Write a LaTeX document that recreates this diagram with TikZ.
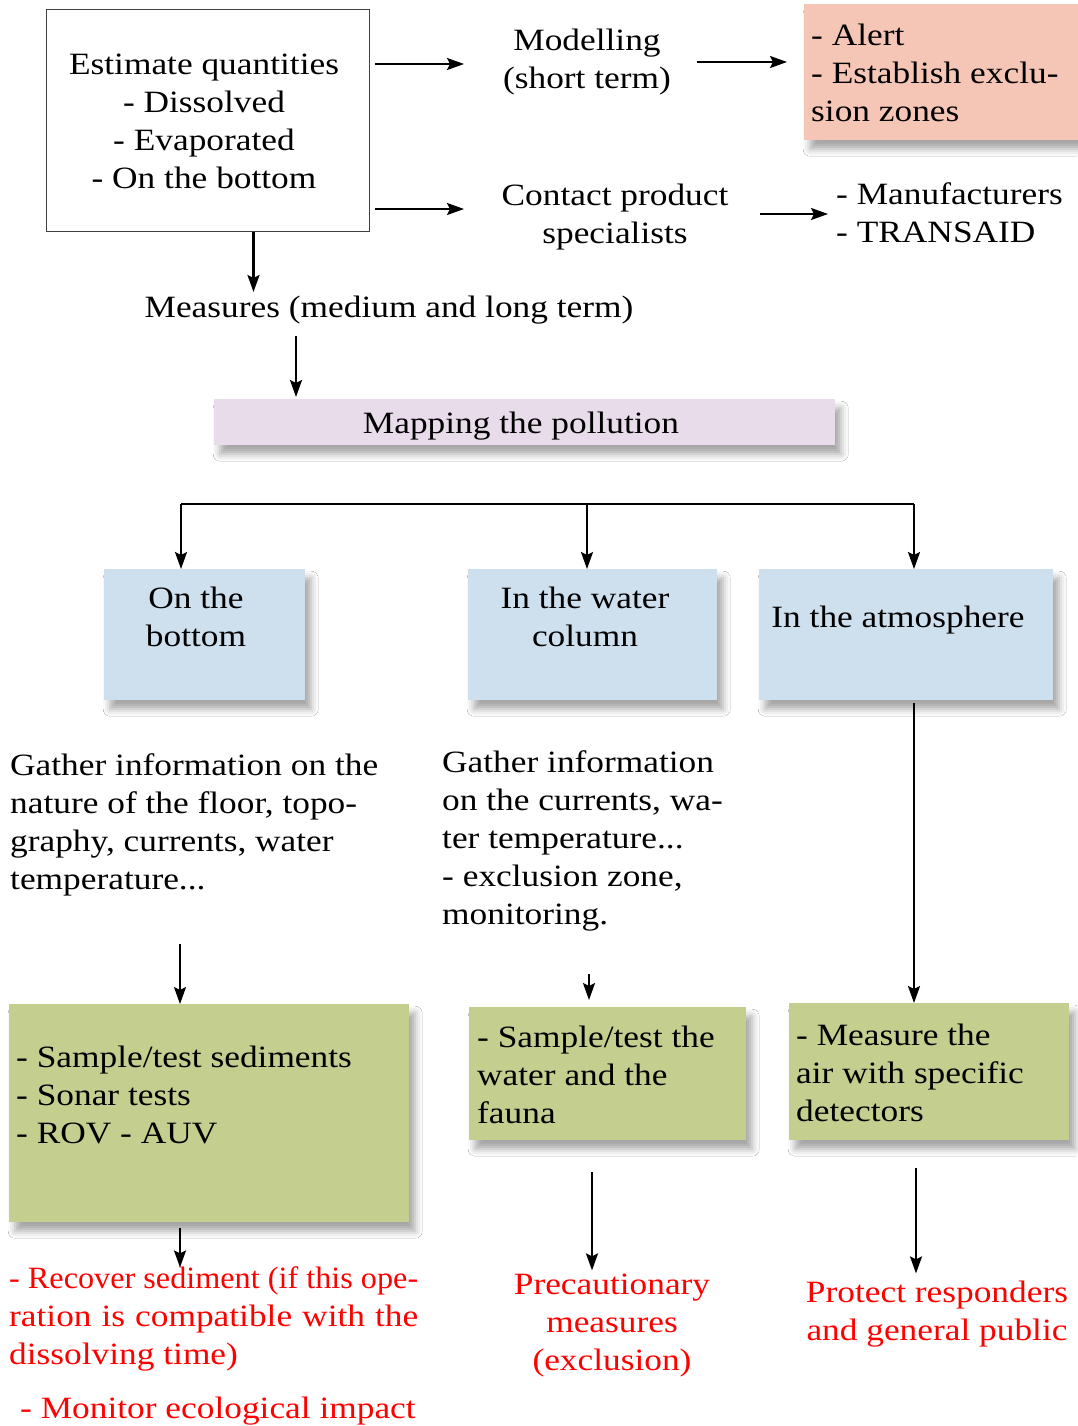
\documentclass[tikz,border=0pt]{standalone}
\usepackage{fontspec}
\setmainfont{Liberation Serif}[FakeStretch=1.14]
\usetikzlibrary{arrows.meta,calc,shadows.blur}
\newcommand\fs{\fontsize{31}{38}\selectfont}
\definecolor{pinkbox}{HTML}{F5C6B6}
\definecolor{lavbox}{HTML}{E8DCEA}
\definecolor{bluebox}{HTML}{CEDFEE}
\definecolor{greenbox}{HTML}{C4CE8E}
\definecolor{redtxt}{HTML}{FF0000}
\tikzset{
  txt/.style={inner sep=0pt, font=\fs, align=center},
  ltxt/.style={inner sep=0pt, font=\fs, align=left},
  rtxt/.style={inner sep=0pt, font=\fs, text=redtxt},
  arr/.style={-{Stealth[length=17pt,width=12pt,inset=3pt]}, line width=2.3pt},
  plain/.style={line width=2.3pt},
  shad/.style={blur shadow={shadow xshift=6pt, shadow yshift=-9pt, shadow blur radius=7pt, shadow opacity=35}},
  boxx/.style={inner sep=0pt, anchor=north west, shad},
}
\begin{document}
\begin{tikzpicture}[x=1pt,y=-1pt]
\useasboundingbox[fill=white] (0,0) rectangle (1077,1426);

% top box
\node[draw=black!75, line width=1pt, fill=white, inner sep=0pt, anchor=north west,
      minimum width=323pt, minimum height=222pt] (est) at (46,9) {};
\node[txt] (esttxt) at (204,123.4) {\strut Estimate quantities\\- Dissolved\\- Evaporated\\- On the bottom\strut};

\node[txt] (mod) at (587,62.4) {\strut Modelling\\(short term)\strut};
\node[txt] (cps) at (615,216.4) {\strut Contact product\\specialists\strut};

\node[boxx, fill=pinkbox, minimum width=276pt, minimum height=136pt] (pink) at (804,4) {};
\node[ltxt, anchor=west] (alert) at (811,75.9) {\strut - Alert\\- Establish exclu-\\sion zones\strut};

\node[ltxt, anchor=west] (manu) at (836,215.4) {\strut - Manufacturers\\- TRANSAID\strut};

\node[txt, anchor=base] (meas) at (389,317) {Measures (medium and long term)};

\node[boxx, fill=lavbox, minimum width=621pt, minimum height=46pt] (map) at (214,399) {};
\node[txt, anchor=base] (maptxt) at (521,433) {Mapping the pollution};

% blue boxes
\node[boxx, fill=bluebox, minimum width=201pt, minimum height=131pt] (b1) at (104,569) {};
\node[boxx, fill=bluebox, minimum width=249pt, minimum height=131pt] (b2) at (468,569) {};
\node[boxx, fill=bluebox, minimum width=294pt, minimum height=131pt] (b3) at (759,569) {};
\node[txt] (b1t) at (196,619.4) {\strut On the\\bottom\strut};
\node[txt] (b2t) at (585,619.4) {\strut In the water\\column\strut};
\node[txt, anchor=base] (b3t) at (898,627) {In the atmosphere};

% gather texts
\node[ltxt, anchor=west] (g1) at (10,824.9) {\strut Gather information on the\\nature of the floor, topo-\\graphy, currents, water\\temperature...\strut};
\node[ltxt, anchor=west] (g2) at (442,840.4) {\strut Gather information\\on the currents, wa-\\ter temperature...\\- exclusion zone,\\monitoring.\strut};

% green boxes
\node[boxx, fill=greenbox, minimum width=400pt, minimum height=218pt] (gr1) at (9,1004) {};
\node[boxx, fill=greenbox, minimum width=277pt, minimum height=133pt] (gr2) at (469,1007) {};
\node[boxx, fill=greenbox, minimum width=280pt, minimum height=137pt] (gr3) at (789,1003) {};
\node[ltxt, anchor=west] (gr1t) at (16,1097.4) {\strut - Sample/test sediments\\- Sonar tests\\- ROV - AUV\strut};
\node[ltxt, anchor=west] (gr2t) at (477,1077.4) {\strut - Sample/test the\\water and the\\fauna\strut};
\node[ltxt, anchor=west] (gr3t) at (796,1075.9) {\strut - Measure the\\air with specific\\detectors\strut};

% red texts
\node[rtxt, align=left, anchor=west] (r1) at (9,1318.9) {\strut\resizebox{409pt}{\height}{- Recover sediment (if this ope-}\\\makebox[409pt][s]{ration is compatible with the}\\dissolving time)\strut};
\node[rtxt, anchor=base west] (r2) at (20,1418) {- Monitor ecological impact};
\node[rtxt, align=center] (r3) at (612,1324.4) {\strut Precautionary\\measures\\(exclusion)\strut};
\node[rtxt, align=center] (r4) at (937,1313.4) {\strut Protect responders\\and general public\strut};

% connectors
\draw[arr] ($(est.north east)+(5,55)$) -- ($(est.north east)+(94,55)$);
\draw[arr] ($(est.north east)+(5,200)$) -- ($(est.north east)+(94,200)$);
\draw[arr] ($(pink.north west)+(-107,58)$) -- ($(pink.north west)+(-17,58)$);
\draw[arr] ($(manu.west)+(-76,-1.4)$) -- ($(manu.west)+(-8,-1.4)$);
\draw[arr] ($(est.south)+(45.5,0)$) -- ($(est.south)+(45.5,60)$);
\draw[arr] ($(map.north west)+(82,-63)$) -- ($(map.north west)+(82,-2)$);

\draw[plain] ($(b1.north west)+(77,-65)$) -- ($(b3.north west)+(155,-65)$);
\draw[arr] ($(b1.north west)+(77,-65)$) -- ($(b1.north west)+(77,0)$);
\draw[arr] ($(b2.north west)+(119,-65)$) -- ($(b2.north west)+(119,0)$);
\draw[arr] ($(b3.north west)+(155,-65)$) -- ($(b3.north west)+(155,0)$);

\draw[arr] ($(b3.south west)+(155,3)$) -- ($(gr3.north west)+(125,0)$);
\draw[arr] ($(gr1.north west)+(171,-60)$) -- ($(gr1.north west)+(171,0)$);
\draw[arr] ($(gr2.north west)+(120,-33)$) -- ($(gr2.north west)+(120,-7)$);
\draw[arr] ($(gr1.south west)+(171,6)$) -- ($(gr1.south west)+(171,45)$);
\draw[arr] ($(gr2.south west)+(123,32)$) -- ($(gr2.south west)+(123,130)$);
\draw[arr] ($(gr3.south west)+(127,28)$) -- ($(gr3.south west)+(127,133)$);
\end{tikzpicture}
\end{document}
